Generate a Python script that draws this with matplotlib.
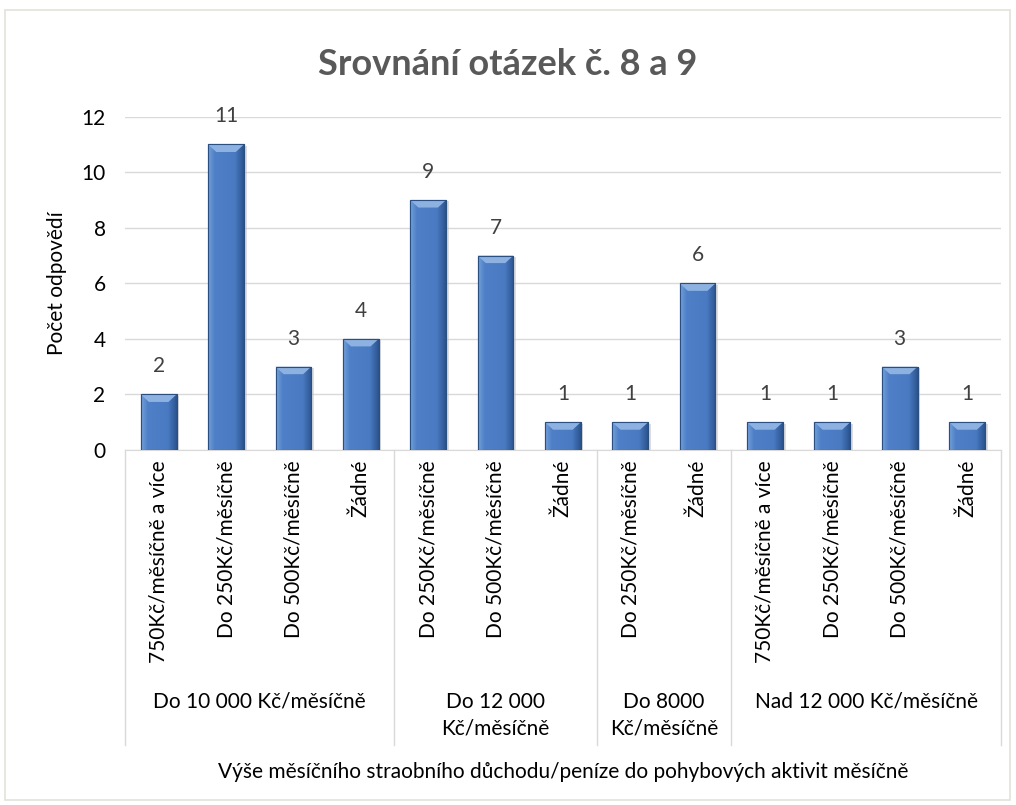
import numpy as np
import matplotlib.pyplot as plt
from matplotlib.patches import Rectangle, Polygon
import matplotlib.transforms as mtransforms

plt.rcParams['font.family'] = ['Lato', 'DejaVu Sans']

categories = ['750Kč/měsíčně a více', 'Do 250Kč/měsíčně', 'Do 500Kč/měsíčně', 'Žádné',
              'Do 250Kč/měsíčně', 'Do 500Kč/měsíčně', 'Žádné',
              'Do 250Kč/měsíčně', 'Žádné',
              '750Kč/měsíčně a více', 'Do 250Kč/měsíčně', 'Do 500Kč/měsíčně', 'Žádné']
values = [2, 11, 3, 4, 9, 7, 1, 1, 6, 1, 1, 3, 1]
groups = ['Do 10 000 Kč/měsíčně', 'Do 12 000\nKč/měsíčně', 'Do 8000\nKč/měsíčně', 'Nad 12 000 Kč/měsíčně']
group_sizes = [4, 3, 2, 4]

fig = plt.figure(figsize=(10.16, 8.05), dpi=100)
ax = fig.add_axes([0.123, 0.441, 0.862, 0.414])

# chart border
fig.patches.append(Rectangle((0.005, 0.006), 0.989, 0.981, transform=fig.transFigure,
                             fill=False, edgecolor='#e3e3dc', linewidth=1.2))

x = np.arange(len(values))
bw = 0.53
bars = ax.bar(x, values, width=bw, color='#4a7cc0', edgecolor='#2a4f80', linewidth=0.8, zorder=3)

# gradient fill to mimic the bevelled bars (light left, dark right)
stops = np.array([[0.45, 0.63, 0.86], [0.31, 0.50, 0.78], [0.29, 0.48, 0.76], [0.17, 0.33, 0.56]])
pos = np.array([0.0, 0.18, 0.75, 1.0])
t = np.linspace(0, 1, 64)
row = np.stack([np.interp(t, pos, stops[:, k]) for k in range(3)], axis=-1)
img = np.repeat(row[None, :, :], 2, axis=0)
for b in bars:
    x0, h = b.get_x(), b.get_height()
    # shadow
    ax.add_patch(Rectangle((x0 + 0.04, 0), bw, h - 0.05, facecolor='#c8c8c8', edgecolor='none',
                           alpha=0.6, zorder=2.5))
    im = ax.imshow(img, extent=[x0, x0 + bw, 0, h], aspect='auto', zorder=3.5,
                   interpolation='bilinear')
    im.set_clip_path(b)
    dx, dy = 0.12, 0.27
    ax.add_patch(Polygon([(x0, h), (x0 + bw, h), (x0 + bw - dx, h - dy), (x0 + dx, h - dy)],
                         closed=True, facecolor='#8db2e2', edgecolor='none', zorder=4))
    ax.add_patch(Rectangle((x0, 0), bw, h, fill=False, edgecolor='#2a4f80', linewidth=0.8, zorder=4.5))

for xi, v in zip(x, values):
    ax.annotate(str(v), (xi, v), xytext=(0, 13), textcoords='offset points',
                ha='center', va='bottom', fontsize=15, color='#404040')

ax.set_xlim(-0.5, len(values) - 0.5)
ax.set_ylim(0, 12)
ax.set_yticks(range(0, 13, 2))
ax.tick_params(axis='y', length=0, labelsize=15, labelcolor='#000000', pad=14)
ax.yaxis.grid(True, color='#d9d9d9', linewidth=1, zorder=0)
ax.set_axisbelow(True)
for s in ['top', 'right', 'left']:
    ax.spines[s].set_visible(False)
ax.spines['bottom'].set_color('#d9d9d9')
ax.set_xticks([])
ax.set_ylabel('Počet odpovědí', fontsize=15, labelpad=10)

trans = mtransforms.blended_transform_factory(ax.transData, ax.transAxes)
for xi, c in zip(x, categories):
    ax.text(xi, -0.03, c, rotation=90, ha='center', va='top', fontsize=15, transform=trans)

# group labels and separators
line_bottom = -(745 - 450) / 333
start = 0
edges = [-0.5]
for g, n in zip(groups, group_sizes):
    center = start + (n - 1) / 2
    ax.text(center, -0.725, g, ha='center', va='top', fontsize=15, transform=trans,
            linespacing=1.4)
    start += n
    edges.append(start - 0.5)
for e in edges:
    ax.plot([e, e], [0, line_bottom], transform=trans, color='#d9d9d9', linewidth=1, clip_on=False)

ax.text(0.5, -0.965, 'Výše měsíčního straobního důchodu/peníze do pohybových aktivit měsíčně',
        ha='center', va='center', fontsize=15, transform=ax.transAxes)

fig.text(0.5, 0.92, 'Srovnání otázek č. 8 a 9', ha='center', va='center',
         fontsize=26, fontweight='bold', color='#595959')

fig.savefig('out.png', dpi=100)
